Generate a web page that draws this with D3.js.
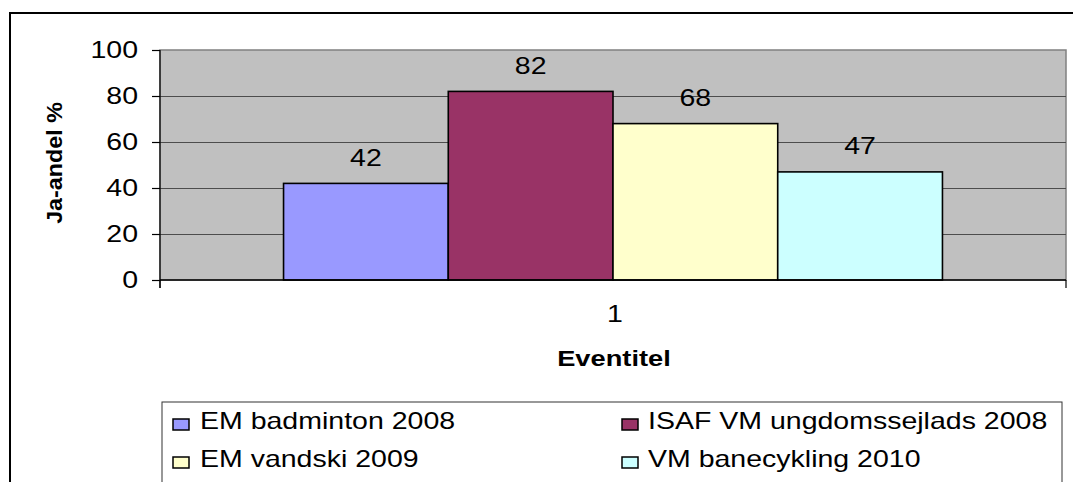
<!DOCTYPE html>
<html>
<head>
<meta charset="utf-8">
<script src="https://cdn.jsdelivr.net/npm/d3@7"></script>
<style>
  html, body { margin: 0; padding: 0; background: #ffffff; }
  svg { display: block; }
  text { font-family: "Liberation Sans", Arial, sans-serif; fill: #000; }
</style>
</head>
<body>
<svg id="chart" width="1073" height="482"></svg>
<script>
// ---- data ----
const categories = ["1"];
const seriesNames = ["EM badminton 2008", "ISAF VM ungdomssejlads 2008", "EM vandski 2009", "VM banecykling 2010"];
const seriesValues = [42, 82, 68, 47];
const seriesColors = ["#9999FF", "#993366", "#FFFFCC", "#CCFFFF"];
const yTicks = [0, 20, 40, 60, 80, 100];
const yTitle = "Ja-andel %";
const xTitle = "Eventitel";

// ---- layout ----
const svg = d3.select("#chart");
const plot = { left: 160, right: 1066, top: 50, bottom: 280 };
const FS = 23, SX = 1.24;

function stretchedText(g, x, y, str, opts = {}) {
  return g.append("text")
    .attr("transform", `translate(${x},${y}) scale(${opts.sx || SX},1)`)
    .attr("text-anchor", opts.anchor || "middle")
    .style("font-size", (opts.size || FS) + "px")
    .style("font-weight", opts.bold ? "bold" : "normal")
    .text(str);
}

// outer frame
svg.append("rect").attr("x", 10).attr("y", 13).attr("width", 1200).attr("height", 600)
  .attr("fill", "none").attr("stroke", "#000").attr("stroke-width", 2);

// scales
const y = d3.scaleLinear().domain([0, 100]).range([plot.bottom, plot.top]);
const x0 = d3.scaleBand().domain(categories).range([plot.left, plot.right])
  .paddingInner(0).paddingOuter(0.1875);
const x1 = d3.scaleBand().domain(seriesNames).range([0, x0.bandwidth()]).padding(0);

// plot background
svg.append("rect").attr("x", plot.left).attr("y", plot.top)
  .attr("width", plot.right - plot.left).attr("height", plot.bottom - plot.top)
  .attr("fill", "#C0C0C0").attr("stroke", "#808080").attr("stroke-width", 1.5);

// gridlines
svg.append("g").selectAll("line").data(yTicks.filter(d => d > 0 && d < 100)).join("line")
  .attr("x1", plot.left).attr("x2", plot.right)
  .attr("y1", d => Math.round(y(d)) + 0.5).attr("y2", d => Math.round(y(d)) + 0.5)
  .attr("stroke", "#4d4d4d").attr("stroke-width", 1.2);

// bars
const gBars = svg.append("g");
categories.forEach(cat => {
  seriesNames.forEach((s, i) => {
    const v = seriesValues[i];
    gBars.append("rect")
      .attr("x", x0(cat) + x1(s))
      .attr("y", y(v))
      .attr("width", x1.bandwidth())
      .attr("height", y(0) - y(v))
      .attr("fill", seriesColors[i])
      .attr("stroke", "#000").attr("stroke-width", 1.6);
    stretchedText(gBars, x0(cat) + x1(s) + x1.bandwidth() / 2, y(v) - 17.5, String(v));
  });
});

// y axis
const yAxis = d3.axisLeft(y).tickValues(yTicks).tickSize(8).tickFormat("");
const gy = svg.append("g").attr("transform", `translate(${plot.left},0)`).call(yAxis);
gy.select(".domain").attr("stroke", "#000").attr("stroke-width", 1.2)
  .attr("d", `M0,${plot.top}V${plot.bottom + 8}`);
gy.selectAll(".tick line").attr("stroke", "#000").attr("stroke-width", 1.2);
yTicks.forEach(t => stretchedText(svg, 138, y(t) + 8, String(t), { anchor: "end" }));

// x axis
const gx = svg.append("g").attr("transform", `translate(0,${plot.bottom})`);
gx.append("line").attr("x1", plot.left).attr("x2", plot.right).attr("y1", 0).attr("y2", 0)
  .attr("stroke", "#000").attr("stroke-width", 1.5);
[plot.left, plot.right].forEach(xx =>
  gx.append("line").attr("x1", xx).attr("x2", xx).attr("y1", 0).attr("y2", 8)
    .attr("stroke", "#000").attr("stroke-width", 1.2));
categories.forEach(c => stretchedText(svg, x0(c) + x0.bandwidth() / 2 + 2, 322, c));

// axis titles
stretchedText(svg, 614, 366, xTitle, { bold: true, size: 22 });
svg.append("text")
  .attr("transform", `translate(62,163) rotate(-90) scale(1.06,1)`)
  .attr("text-anchor", "middle")
  .style("font-size", "22px").style("font-weight", "bold")
  .text(yTitle);

// legend
const lg = svg.append("g");
lg.append("rect").attr("x", 162).attr("y", 402).attr("width", 900).attr("height", 200)
  .attr("fill", "#fff").attr("stroke", "#333").attr("stroke-width", 1);
const legendPos = [
  { mx: 173, tx: 200, base: 429 },
  { mx: 622, tx: 648, base: 429 },
  { mx: 173, tx: 200, base: 467 },
  { mx: 622, tx: 648, base: 467 }
];
seriesNames.forEach((s, i) => {
  const p = legendPos[i];
  lg.append("rect").attr("x", p.mx).attr("y", p.base - 10).attr("width", 16).attr("height", 11)
    .attr("fill", seriesColors[i]).attr("stroke", "#000").attr("stroke-width", 1.5);
  stretchedText(lg, p.tx, p.base, s, { anchor: "start" });
});
</script>
</body>
</html>
